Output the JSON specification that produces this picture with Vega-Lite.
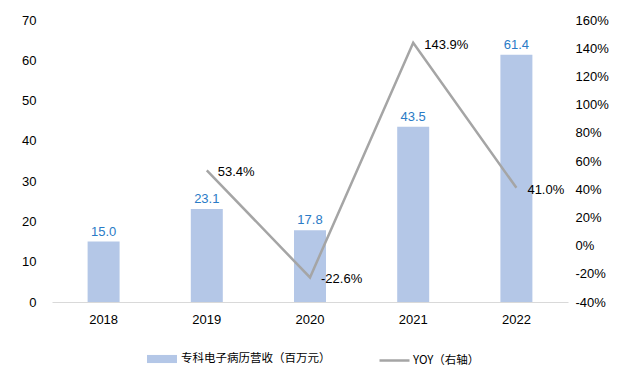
{
  "$schema": "https://vega.github.io/schema/vega-lite/v6.json",
  "width": 516,
  "height": 282,
  "autosize": "none",
  "padding": {"left": 52, "top": 20, "right": 58, "bottom": 76},
  "background": "white",
  "config": {
    "view": {"stroke": null},
    "font": "Liberation Sans",
    "locale": {"number": {"decimal": ".", "thousands": ",", "grouping": [3], "currency": ["$", ""], "minus": "-"}}
  },
  "data": {"values": [
    {"year": "2018", "rev": 15.0, "yoy": null},
    {"year": "2019", "rev": 23.1, "yoy": 0.534},
    {"year": "2020", "rev": 17.8, "yoy": -0.226},
    {"year": "2021", "rev": 43.5, "yoy": 1.439},
    {"year": "2022", "rev": 61.4, "yoy": 0.410}
  ]},
  "encoding": {
    "x": {"field": "year", "type": "nominal", "scale": {"paddingInner": 0.69, "paddingOuter": 0.345},
      "axis": {"title": null, "labelAngle": 0, "ticks": false, "domainColor": "#D9D9D9", "domainWidth": 1, "labelFontSize": 13, "labelColor": "#000000", "labelPadding": 11}}
  },
  "layer": [
    {
      "encoding": {
        "y": {"field": "rev", "type": "quantitative", "scale": {"domain": [0, 70]},
          "axis": {"title": null, "values": [0,10,20,30,40,50,60,70], "labelOverlap": false, "grid": false, "domain": false, "ticks": false, "labelFontSize": 13, "labelColor": "#000000", "labelPadding": 16}}
      },
      "layer": [
        {
          "mark": {"type": "bar", "color": "#B4C7E7"},
          "encoding": {
            "fill": {"datum": "专科电子病历营收（百万元）", "type": "nominal", "scale": {"range": ["#B4C7E7"]},
              "legend": {"title": null, "orient": "none", "legendX": 95, "legendY": 324, "symbolType": "M-1,-0.27H1V0.27H-1Z", "symbolSize": 900, "symbolStrokeWidth": 0, "labelFont": "Noto Sans CJK SC", "labelFontSize": 11.5, "labelColor": "#000000", "labelOffset": 4}}
          }
        },
        {
          "mark": {"type": "text", "baseline": "bottom", "dy": -3, "fontSize": 13, "color": "#2A7BC6"},
          "encoding": {
            "text": {"field": "rev", "type": "quantitative", "format": ".1f"}
          }
        }
      ]
    },
    {
      "transform": [{"filter": "datum.yoy != null"}],
      "encoding": {
        "y": {"field": "yoy", "type": "quantitative", "scale": {"domain": [-0.4, 1.6]},
          "axis": {"title": null, "orient": "right", "format": ".0%", "values": [-0.4,-0.2,0,0.2,0.4,0.6,0.8,1.0,1.2,1.4,1.6], "labelOverlap": false, "grid": false, "domain": false, "ticks": false, "labelFontSize": 13, "labelColor": "#000000", "labelPadding": 7}}
      },
      "layer": [
        {
          "mark": {"type": "line", "strokeWidth": 2.5},
          "encoding": {
            "stroke": {"datum": "YOY（右轴）", "type": "nominal", "scale": {"range": ["#A5A5A5"]},
              "legend": {"title": null, "orient": "none", "legendX": 326, "legendY": 324, "symbolType": "M-1,0H1", "symbolSize": 900, "symbolStrokeWidth": 2.5, "labelFont": "Noto Sans CJK SC", "labelFontSize": 11.5, "labelColor": "#000000", "labelOffset": 2}}
          }
        },
        {
          "mark": {"type": "text", "align": "left", "baseline": "middle", "dx": 11, "dy": 2, "fontSize": 13, "color": "#000000"},
          "encoding": {
            "text": {"field": "yoy", "type": "quantitative", "format": ".1%"}
          }
        }
      ]
    }
  ],
  "resolve": {"scale": {"y": "independent"}}
}
